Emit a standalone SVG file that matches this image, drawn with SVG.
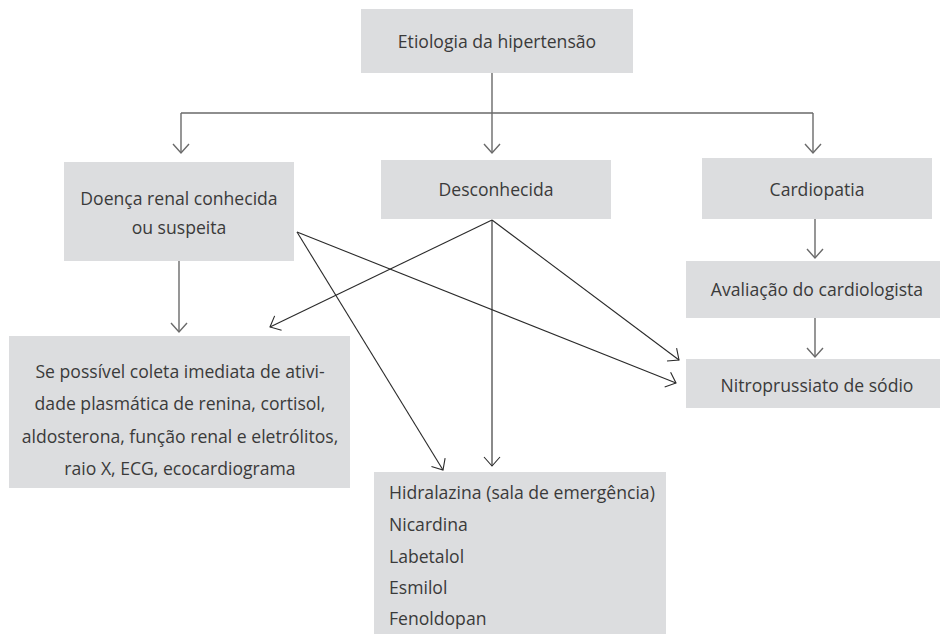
<svg xmlns="http://www.w3.org/2000/svg" width="940" height="634" viewBox="0 0 940 634">
  <style>
    .box { fill: #dcdddf; }
    .t { font-family: "Open Sans", "Noto Sans", "DejaVu Sans", sans-serif; font-size: 17.6px; fill: #3a3a3a; }
    .c { text-anchor: middle; }
    .gray { fill: none; stroke: #6a6a6a; stroke-width: 1.4; }
    .dark { fill: none; stroke: #2a2a2a; stroke-width: 1.1; }
  </style>
  <defs>
    <marker id="arrowGray" markerUnits="userSpaceOnUse" markerWidth="20" markerHeight="20" refX="0" refY="0" viewBox="-12 -10 14 20" orient="auto">
      <path d="M-9,-8 L0,0 L-9,8" fill="none" stroke="#6a6a6a" stroke-width="1.4"/>
    </marker>
    <marker id="arrowDark" markerUnits="userSpaceOnUse" markerWidth="20" markerHeight="20" refX="0" refY="0" viewBox="-12 -10 14 20" orient="auto">
      <path d="M-9,-8 L0,0 L-9,8" fill="none" stroke="#2a2a2a" stroke-width="1.1"/>
    </marker>
  </defs>

  <g id="etiologia">
    <rect class="box" x="361" y="9" width="272" height="64"/>
    <text class="t c" x="497" y="48">Etiologia da hipertensão</text>
  </g>

  <g id="doenca-renal">
    <rect class="box" x="64" y="162" width="230" height="99"/>
    <text class="t c" x="179" y="205">Doença renal conhecida</text>
    <text class="t c" x="179" y="234">ou suspeita</text>
  </g>

  <g id="desconhecida">
    <rect class="box" x="381" y="160" width="230" height="59"/>
    <text class="t c" x="496" y="196">Desconhecida</text>
  </g>

  <g id="cardiopatia">
    <rect class="box" x="702" y="158" width="230" height="61"/>
    <text class="t c" x="817" y="196">Cardiopatia</text>
  </g>

  <g id="avaliacao">
    <rect class="box" x="686" y="261" width="254" height="57"/>
    <text class="t c" x="817" y="296">Avaliação do cardiologista</text>
  </g>

  <g id="nitroprussiato">
    <rect class="box" x="686" y="359" width="254" height="49"/>
    <text class="t c" x="817" y="392">Nitroprussiato de sódio</text>
  </g>

  <g id="exames">
    <rect class="box" x="9" y="336" width="341" height="152"/>
    <text class="t c" x="180" y="378">Se possível coleta imediata de ativi-</text>
    <text class="t c" x="180" y="410">dade plasmática de renina, cortisol,</text>
    <text class="t c" x="180" y="443">aldosterona, função renal e eletrólitos,</text>
    <text class="t c" x="180" y="475">raio X, ECG, ecocardiograma</text>
  </g>

  <g id="medicamentos">
    <rect class="box" x="374" y="472" width="292" height="162"/>
    <text class="t" x="389" y="499">Hidralazina (sala de emergência)</text>
    <text class="t" x="389" y="531">Nicardina</text>
    <text class="t" x="389" y="563">Labetalol</text>
    <text class="t" x="389" y="594">Esmilol</text>
    <text class="t" x="389" y="625">Fenoldopan</text>
  </g>

  <g id="connectors">
    <!-- trunk from the root and the three branches -->
    <path class="gray" d="M492,73 V113 M181,113 H813"/>
    <path class="gray" d="M181,113 V153" marker-end="url(#arrowGray)"/>
    <path class="gray" d="M492,113 V153" marker-end="url(#arrowGray)"/>
    <path class="gray" d="M813,113 V153" marker-end="url(#arrowGray)"/>
    <!-- vertical steps -->
    <path class="gray" d="M179,261 V332" marker-end="url(#arrowGray)"/>
    <path class="gray" d="M815,219 V258" marker-end="url(#arrowGray)"/>
    <path class="gray" d="M815,318 V357" marker-end="url(#arrowGray)"/>
    <!-- diagonal links -->
    <path class="dark" d="M297,232 L443,470" marker-end="url(#arrowDark)"/>
    <path class="dark" d="M297,232 L676,383" marker-end="url(#arrowDark)"/>
    <path class="dark" d="M492,220 L270,327" marker-end="url(#arrowDark)"/>
    <path class="dark" d="M492,220 L679,360" marker-end="url(#arrowDark)"/>
    <path class="dark" d="M492,220 V466" marker-end="url(#arrowDark)"/>
  </g>
</svg>
